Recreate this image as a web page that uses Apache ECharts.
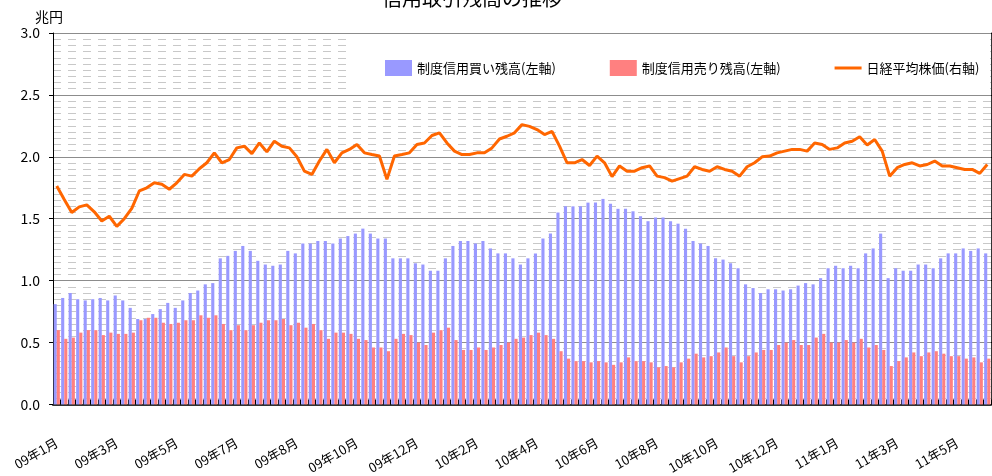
<!DOCTYPE html>
<html>
<head>
<meta charset="utf-8">
<script src="https://cdn.jsdelivr.net/npm/echarts@6/dist/echarts.min.js"></script>
<style>
  html, body { margin: 0; padding: 0; background: #fff; }
  #main { width: 992px; height: 476px; }
</style>
</head>
<body>
<div id="main"></div>
<script>
  // x軸ラベル（8週ごと）
  const tickLabels = ['09年1月', '09年3月', '09年5月', '09年7月', '09年8月', '09年10月', '09年12月', '10年2月',
    '10年4月', '10年6月', '10年8月', '10年10月', '10年12月', '11年1月', '11年3月', '11年5月'];
  const weeksPerTick = 8;

  // 制度信用買い残高（兆円）
  const buyBalance = [
    0.81, 0.86, 0.90, 0.85, 0.84, 0.85, 0.86, 0.84, 0.88, 0.84,
    0.78, 0.69, 0.69, 0.73, 0.77, 0.82, 0.78, 0.84, 0.90, 0.92,
    0.97, 0.98, 1.18, 1.20, 1.24, 1.28, 1.24, 1.16, 1.13, 1.12,
    1.13, 1.24, 1.22, 1.30, 1.30, 1.32, 1.32, 1.30, 1.34, 1.36,
    1.38, 1.42, 1.38, 1.34, 1.34, 1.18, 1.18, 1.18, 1.14, 1.13,
    1.08, 1.08, 1.18, 1.28, 1.32, 1.32, 1.30, 1.32, 1.26, 1.22,
    1.22, 1.18, 1.13, 1.18, 1.22, 1.34, 1.38, 1.55, 1.60, 1.60,
    1.60, 1.63, 1.63, 1.66, 1.62, 1.58, 1.58, 1.56, 1.52, 1.48,
    1.51, 1.51, 1.48, 1.46, 1.42, 1.32, 1.30, 1.28, 1.18, 1.17,
    1.14, 1.10, 0.97, 0.94, 0.90, 0.93, 0.93, 0.92, 0.93, 0.96,
    0.98, 0.97, 1.02, 1.10, 1.12, 1.10, 1.12, 1.10, 1.22, 1.26,
    1.38, 1.02, 1.10, 1.08, 1.08, 1.13, 1.13, 1.10, 1.18, 1.22,
    1.22, 1.26, 1.24, 1.26, 1.22
  ];

  // 制度信用売り残高（兆円）
  const sellBalance = [
    0.60, 0.53, 0.54, 0.58, 0.60, 0.60, 0.56, 0.58, 0.57, 0.57,
    0.58, 0.68, 0.70, 0.70, 0.66, 0.65, 0.66, 0.68, 0.68, 0.72,
    0.70, 0.72, 0.65, 0.60, 0.64, 0.60, 0.64, 0.66, 0.68, 0.68,
    0.69, 0.64, 0.66, 0.62, 0.65, 0.60, 0.53, 0.58, 0.58, 0.57,
    0.53, 0.52, 0.46, 0.46, 0.43, 0.53, 0.57, 0.56, 0.50, 0.48,
    0.58, 0.60, 0.62, 0.52, 0.44, 0.44, 0.46, 0.44, 0.46, 0.48,
    0.50, 0.53, 0.54, 0.56, 0.58, 0.56, 0.53, 0.43, 0.37, 0.35,
    0.35, 0.34, 0.35, 0.34, 0.32, 0.34, 0.38, 0.35, 0.35, 0.34,
    0.30, 0.31, 0.30, 0.34, 0.37, 0.41, 0.38, 0.39, 0.42, 0.46,
    0.39, 0.34, 0.39, 0.42, 0.44, 0.44, 0.48, 0.50, 0.52, 0.48,
    0.48, 0.54, 0.57, 0.50, 0.50, 0.52, 0.50, 0.53, 0.46, 0.48,
    0.44, 0.31, 0.35, 0.38, 0.42, 0.39, 0.42, 0.43, 0.41, 0.39,
    0.39, 0.37, 0.38, 0.34, 0.37
  ];

  // 日経平均株価（円）
  const nikkei = [
    8820, 8280, 7750, 7980, 8060, 7780, 7410, 7600, 7190, 7500,
    7920, 8620, 8750, 8950, 8890, 8690, 8950, 9290, 9220, 9520,
    9760, 10160, 9760, 9890, 10360, 10430, 10130, 10560, 10200, 10630,
    10430, 10360, 10000, 9420, 9290, 9830, 10300, 9760, 10160, 10300,
    10500, 10160, 10090, 10030, 9090, 10030, 10090, 10160, 10500, 10560,
    10860, 10970, 10560, 10230, 10090, 10090, 10160, 10160, 10360, 10720,
    10830, 10970, 11300, 11230, 11100, 10900, 11030, 10430, 9760, 9760,
    9890, 9650, 10030, 9760, 9200, 9630, 9420, 9420, 9560, 9630,
    9220, 9160, 9020, 9120, 9220, 9600, 9490, 9420, 9600, 9490,
    9420, 9220, 9600, 9760, 10000, 10030, 10160, 10230, 10300, 10300,
    10230, 10560, 10500, 10300, 10360, 10560, 10630, 10810, 10480, 10700,
    10230, 9220, 9560, 9690, 9760, 9630, 9690, 9830, 9630, 9630,
    9560, 9490, 9490, 9330, 9690
  ];

  const font = '"Noto Sans CJK JP", "Noto Sans CJK SC", sans-serif';
  // 週ごとのカテゴリ（ラベルは8週ごと）
  const categories = buyBalance.map((v, i) => (i % weeksPerTick === 0 ? tickLabels[i / weeksPerTick] : 'w' + i));

  const myChart = echarts.init(document.getElementById('main'));
  myChart.setOption({
    backgroundColor: '#fff',
    animation: false,
    textStyle: { fontFamily: font },
    title: {
      text: '信用取引残高の推移',
      left: 377,
      top: -17,
      textStyle: { fontFamily: font, fontSize: 20, fontWeight: 'normal', color: '#000' },
    },
    graphic: [{
      type: 'rect',
      left: 350,
      top: 34,
      z: 1,
      shape: { width: 640, height: 60 },
      style: { fill: '#fff' },
    }],
    legend: {
      left: 380,
      top: 55,
      itemWidth: 27,
      itemHeight: 16,
      itemGap: 54,
      textStyle: { fontFamily: font, fontSize: 13, color: '#000' },
      data: [
        { name: '制度信用買い残高(左軸)', icon: 'rect' },
        { name: '制度信用売り残高(左軸)', icon: 'rect' },
        { name: '日経平均株価(右軸)', icon: 'path://M0,0H27V3H0Z' },
      ],
    },
    grid: {
      left: 53,
      right: 1,
      top: 33,
      bottom: 70,
    },
    xAxis: [{
      type: 'category',
      data: categories,
      boundaryGap: true,
      axisLine: { lineStyle: { color: '#333', width: 2 } },
      axisTick: { show: true, interval: 0, inside: true, length: 5, lineStyle: { color: '#000' } },
      axisLabel: {
        interval: i => i % weeksPerTick === 0,
        rotate: 30,
        margin: 37,
        fontSize: 13,
        color: '#000',
        fontFamily: font,
      },
      splitLine: { show: false },
    }],
    yAxis: [{
      type: 'value',
      min: 0,
      max: 3,
      interval: 0.5,
      position: 'left',
      name: '兆円',
      nameLocation: 'end',
      nameGap: 9,
      nameTextStyle: { color: '#000', fontSize: 14, fontFamily: font, padding: [0, 8, 0, 0] },
      axisLine: { show: true, lineStyle: { color: '#000' } },
      axisTick: { show: true, length: 4, lineStyle: { color: '#000' } },
      axisLabel: { color: '#000', fontSize: 14, margin: 13, fontFamily: font, formatter: v => v.toFixed(1) },
      splitLine: { show: true, lineStyle: { color: '#8c8c8c' } },
      minorTick: { show: false, splitNumber: 10 },
      minorSplitLine: { show: true, lineStyle: { color: '#c8c8c8', type: [8, 7] } },
    }, {
      type: 'value',
      min: 0,
      max: 15000,
      interval: 2500,
      position: 'right',
      axisLine: { show: true, lineStyle: { color: '#333' } },
      axisTick: { show: true, length: 3, lineStyle: { color: '#000' } },
      axisLabel: { show: false },
      splitLine: { show: false },
    }],
    series: [{
      name: '制度信用買い残高(左軸)',
      type: 'bar',
      yAxisIndex: 0,
      barGap: '0%',
      barCategoryGap: '17%',
      itemStyle: { color: '#9999FF' },
      data: buyBalance,
    }, {
      name: '制度信用売り残高(左軸)',
      type: 'bar',
      yAxisIndex: 0,
      itemStyle: { color: '#FF8080' },
      data: sellBalance,
    }, {
      name: '日経平均株価(右軸)',
      type: 'line',
      yAxisIndex: 1,
      symbol: 'none',
      lineStyle: { color: '#FF6600', width: 3 },
      itemStyle: { color: '#FF6600' },
      data: nikkei,
    }],
  });
</script>
</body>
</html>
